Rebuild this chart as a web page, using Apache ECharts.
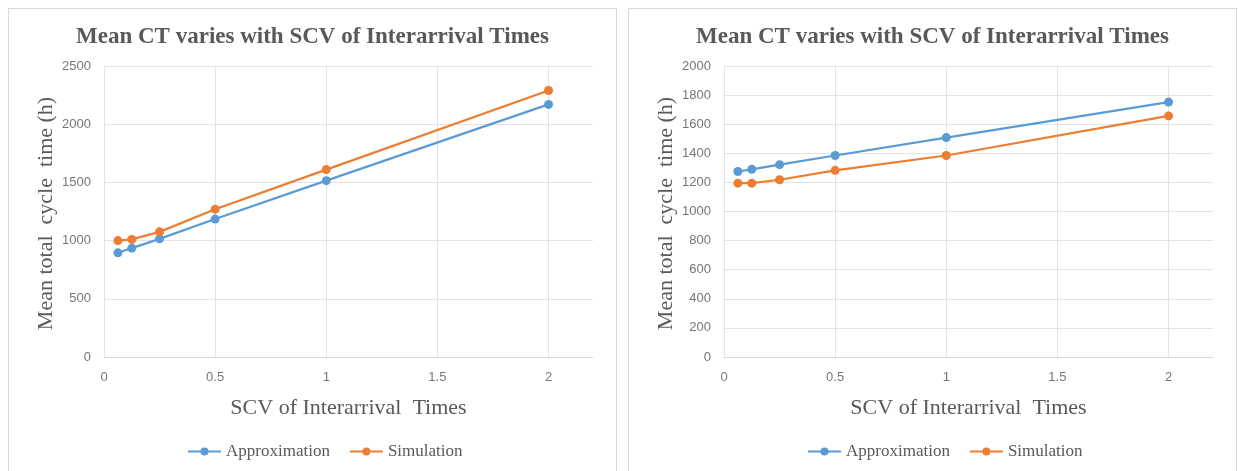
<!DOCTYPE html>
<html>
<head>
<meta charset="utf-8">
<script src="https://cdn.jsdelivr.net/npm/echarts@6/dist/echarts.min.js"></script>
<style>
  html, body { margin: 0; padding: 0; background: #fff; }
  body { width: 1238px; height: 471px; position: relative; overflow: hidden; }
  .panel {
    position: absolute;
    top: 8px;
    width: 607px;
    height: 470px;
    border: 1px solid #d9d9d9;
    border-bottom: none;
  }
  #left { left: 8px; }
  #right { left: 628px; }
</style>
</head>
<body>
<div class="panel" id="left"></div>
<div class="panel" id="right"></div>

<script>
// 数据
const scv = [0.0625, 0.125, 0.25, 0.5, 1, 2]
const leftApprox = [895, 935, 1015, 1185, 1515, 2170]
const leftSim = [1000, 1010, 1075, 1270, 1610, 2290]
const rightApprox = [1275, 1290, 1322, 1385, 1508, 1752]
const rightSim = [1195, 1195, 1218, 1283, 1385, 1657]

const titleText = 'Mean CT varies with SCV of Interarrival Times'
const xName = 'SCV of Interarrival  Times'
const yName = 'Mean total  cycle  time (h)'
const gray = '#595959'
const serif = '"Liberation Serif", "DejaVu Serif", serif'
const sans = '"Liberation Sans", sans-serif'

const pairs = (xs, ys) => xs.map((x, i) => [x, ys[i]])

const build = (approx, sim, yMax, yStep) => ({
  animation: false,
  title: {
    text: titleText,
    left: 'center',
    top: 12,
    textStyle: { fontFamily: serif, fontSize: 23, fontWeight: 'bold', color: gray }
  },
  grid: { left: 95, top: 57, width: 489, height: 291 },
  legend: {
    bottom: 14,
    left: 173,
    itemWidth: 33,
    itemHeight: 10,
    itemGap: 19,
    textStyle: { fontFamily: serif, fontSize: 17, color: gray },
    data: ['Approximation', 'Simulation']
  },
  xAxis: {
    type: 'value',
    min: 0,
    max: 2.2,
    interval: 0.5,
    name: xName,
    nameLocation: 'middle',
    nameGap: 40,
    nameTextStyle: { fontFamily: serif, fontSize: 22, color: gray },
    axisLine: { show: true, lineStyle: { color: '#d9d9d9' } },
    axisTick: { show: false },
    axisLabel: { showMaxLabel: false, margin: 14, fontFamily: sans, fontSize: 13, color: '#767676' },
    splitLine: { show: true, showMaxLine: false, lineStyle: { color: '#e3e3e3' } }
  },
  yAxis: {
    type: 'value',
    min: 0,
    max: yMax,
    interval: yStep,
    name: yName,
    nameLocation: 'middle',
    nameGap: 47,
    nameMoveOverlap: false,
    nameTextStyle: { fontFamily: serif, fontSize: 22, color: gray, padding: [0, 4, 0, 0] },
    axisLine: { show: false },
    axisTick: { show: false },
    axisLabel: { margin: 13, fontFamily: sans, fontSize: 13, color: '#767676', formatter: v => String(v) },
    splitLine: { show: true, lineStyle: { color: '#e3e3e3' } }
  },
  series: [
    {
      name: 'Approximation',
      type: 'line',
      data: pairs(scv, approx),
      symbol: 'circle',
      symbolSize: 9,
      lineStyle: { width: 2.2, color: '#5b9bd5' },
      itemStyle: { color: '#5b9bd5' }
    },
    {
      name: 'Simulation',
      type: 'line',
      data: pairs(scv, sim),
      symbol: 'circle',
      symbolSize: 9,
      lineStyle: { width: 2.2, color: '#ed7d31' },
      itemStyle: { color: '#ed7d31' }
    }
  ]
})

const leftChart = echarts.init(document.getElementById('left'))
leftChart.setOption(build(leftApprox, leftSim, 2500, 500))

const rightChart = echarts.init(document.getElementById('right'))
rightChart.setOption(build(rightApprox, rightSim, 2000, 200))
</script>
</body>
</html>
